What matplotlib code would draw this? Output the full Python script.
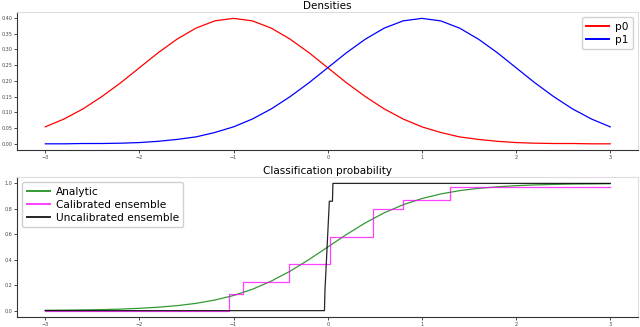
import matplotlib
matplotlib.use("Agg")
import matplotlib.pyplot as plt

# grid the densities / analytic curve were read at
x_grid = [-3.0, -2.8, -2.6, -2.4, -2.2, -2.0, -1.8, -1.6, -1.4, -1.2,
          -1.0, -0.8, -0.6, -0.4, -0.2, 0.0, 0.2, 0.4, 0.6, 0.8,
          1.0, 1.2, 1.4, 1.6, 1.8, 2.0, 2.2, 2.4, 2.6, 2.8, 3.0]

p0 = [0.054, 0.079, 0.111, 0.150, 0.194, 0.242, 0.290, 0.333, 0.368, 0.391,
      0.399, 0.391, 0.368, 0.333, 0.290, 0.242, 0.194, 0.150, 0.111, 0.079,
      0.054, 0.036, 0.022, 0.014, 0.008, 0.004, 0.002, 0.001, 0.001, 0.000, 0.000]
p1 = [0.000, 0.000, 0.001, 0.001, 0.002, 0.004, 0.008, 0.014, 0.022, 0.036,
      0.054, 0.079, 0.111, 0.150, 0.194, 0.242, 0.290, 0.333, 0.368, 0.391,
      0.399, 0.391, 0.368, 0.333, 0.290, 0.242, 0.194, 0.150, 0.111, 0.079, 0.054]

analytic = [0.003, 0.004, 0.006, 0.008, 0.012, 0.018, 0.027, 0.039, 0.057, 0.083,
            0.119, 0.168, 0.232, 0.310, 0.401, 0.500, 0.599, 0.690, 0.769, 0.832,
            0.881, 0.917, 0.943, 0.961, 0.973, 0.982, 0.988, 0.992, 0.995, 0.996, 0.998]

# calibrated ensemble: step edges and levels
cal_x = [-3.0, -1.05, -0.90, -0.41, 0.02, 0.48, 0.80, 1.30, 3.0]
cal_y = [0.0, 0.13, 0.224, 0.369, 0.58, 0.795, 0.868, 0.968, 0.968]

# uncalibrated ensemble
uncal_x = [-3.0, -0.035, -0.03, 0.017, 0.05, 0.055, 3.0]
uncal_y = [0.0, 0.0, 0.15, 0.86, 0.86, 1.0, 1.0]

x_ticks = [-3, -2, -1, 0, 1, 2, 3]
dens_ticks = [0.0, 0.05, 0.10, 0.15, 0.20, 0.25, 0.30, 0.35, 0.40]
prob_ticks = [0.0, 0.2, 0.4, 0.6, 0.8, 1.0]


def style_axes(ax):
    ax.tick_params(labelsize=3.5, length=2, width=0.5, pad=1.5, labelcolor="#444444")
    for side in ("left", "bottom"):
        ax.spines[side].set_color("#333333")
        ax.spines[side].set_linewidth(0.8)
    for side in ("top", "right"):
        ax.spines[side].set_color("#dddddd")
        ax.spines[side].set_linewidth(0.8)


def add_legend(ax, loc):
    leg = ax.legend(loc=loc, fontsize=7.6, handlelength=2.2, borderpad=0.4,
                    labelspacing=0.3, handletextpad=0.6, framealpha=0.9)
    for line in leg.get_lines():
        line.set_linewidth(1.4)
    return leg


fig = plt.figure(figsize=(6.4, 3.27), dpi=100)
ax1 = fig.add_axes([0.0266, 0.541, 0.971, 0.422])
ax2 = fig.add_axes([0.0266, 0.0306, 0.971, 0.428])

# Densities
ax1.plot(x_grid, p0, color="red", lw=0.9, label="p0")
ax1.plot(x_grid, p1, color="blue", lw=0.9, label="p1")
ax1.set_title("Densities", fontsize=7.5, pad=2)
ax1.set_xticks(x_ticks)
ax1.set_yticks(dens_ticks)
ax1.set_yticklabels([f"{v:.2f}" for v in dens_ticks])
add_legend(ax1, "upper right")
style_axes(ax1)

# Classification probability
ax2.plot(x_grid, analytic, color="green", lw=0.9, alpha=0.8, label="Analytic")
ax2.step(cal_x, cal_y, where="post", color="magenta", lw=0.9, alpha=0.75,
         label="Calibrated ensemble")
ax2.plot(uncal_x, uncal_y, color="black", lw=0.9, alpha=0.85,
         label="Uncalibrated ensemble")
ax2.set_title("Classification probability", fontsize=7.5, pad=2)
ax2.set_xticks(x_ticks)
ax2.set_yticks(prob_ticks)
ax2.set_yticklabels([f"{v:.1f}" for v in prob_ticks])
add_legend(ax2, "upper left")
style_axes(ax2)

fig.savefig("out.png", dpi=100)
